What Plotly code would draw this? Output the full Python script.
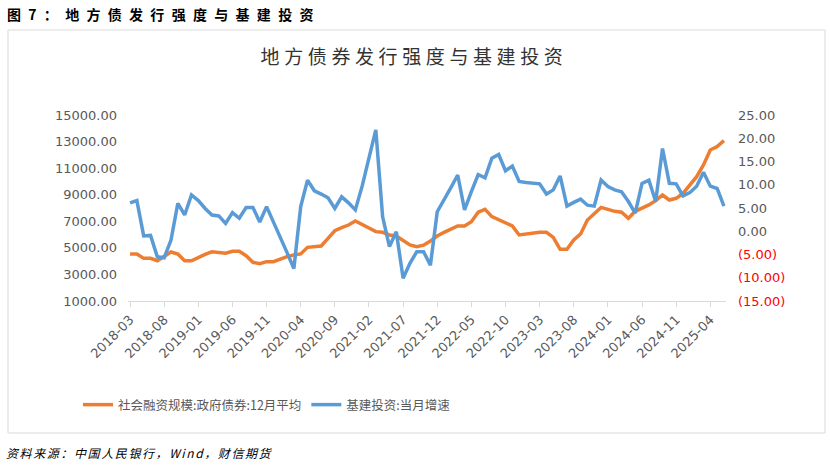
import plotly.graph_objects as go

# ---------------- data ----------------
months = []
y, m = 2018, 3
for _ in range(88):
    months.append(f"{y}-{m:02d}")
    m += 1
    if m > 12:
        m = 1
        y += 1

gov_bond_12m_avg = [
    4540, 4540, 4210, 4210, 4030, 4340, 4690, 4540, 4030, 4030,
    4290, 4510, 4710, 4660, 4590, 4740, 4740, 4410, 3910, 3810,
    3960, 3960, 4160, 4340, 4460, 4540, 5040, 5090, 5140, 5720,
    6290, 6520, 6720, 7020, 6770, 6470, 6220, 6170, 5970, 5890,
    5520, 5220, 5090, 5200, 5520, 5890, 6170, 6420, 6650, 6650,
    6970, 7680, 7900, 7350, 7100, 6850, 6650, 5970, 6040, 6140,
    6170, 6170, 5790, 4890, 4890, 5600, 6050, 7100, 7600, 8050,
    7900, 7750, 7680, 7230, 7750, 7980, 8230, 8550, 8980, 8600,
    8730, 9100, 9730, 10360, 11240, 12370, 12620, 13070,
]

infra_yoy = [
    6.1, 6.6, -1.0, -0.9, -5.5, -5.7, -1.9, 6.0, 3.5, 7.8,
    6.6, 4.9, 3.5, 3.3, 1.7, 4.0, 2.8, 5.1, 5.1, 2.0,
    5.3, 2.1, -1.2, -4.6, -8.0, 5.3, 11.0, 8.7, 8.0, 7.2,
    4.9, 7.4, 6.1, 4.6, 9.7, 15.7, 21.8, 3.1, -3.3, -0.1,
    -10.1, -6.9, -4.4, -4.4, -7.3, 4.2, 6.7, 9.4, 12.1, 4.6,
    8.5, 12.2, 11.5, 15.7, 16.5, 13.0, 14.0, 10.7, 10.5, 10.3,
    10.2, 8.0, 8.9, 11.9, 5.4, 6.2, 6.9, 5.6, 5.4, 11.0,
    9.6, 8.9, 8.5, 6.4, 3.9, 10.3, 11.0, 6.4, 17.8, 10.3,
    10.2, 7.6, 8.3, 9.7, 12.7, 9.7, 9.2, 5.4,
]

x_tick_labels = months[::5]
right_tick_vals = [-15, -10, -5, 0, 5, 10, 15, 20, 25]
right_tick_text = [
    '<span style="color:#FF0000">(15.00)</span>',
    '<span style="color:#FF0000">(10.00)</span>',
    '<span style="color:#FF0000">(5.00)</span>',
    '0.00', '5.00', '10.00', '15.00', '20.00', '25.00',
]

series_names = ["社会融资规模:政府债券:12月平均", "基建投资:当月增速"]
heading_text = "图7：地方债发行强度与基建投资"
title_text = "地方债券发行强度与基建投资"
source_text = "资料来源：中国人民银行，Wind，财信期货"

# ---------------- layout helpers ----------------
W, H = 830, 467
PL, PR, PT, PB = 128, 726, 115, 301


def px2x(px):
    return (px - PL) / (PR - PL)


def px2y(py):
    return (PB - py) / (PB - PT)


CJK = "Noto Sans CJK SC"
NUM = "DejaVu Sans"
GRAY = "#595959"

fig = go.Figure()
fig.add_trace(go.Scatter(
    x=months, y=gov_bond_12m_avg, name=series_names[0], mode="lines",
    line=dict(color="#ED7D31", width=3.5),
))
fig.add_trace(go.Scatter(
    x=months, y=infra_yoy, name=series_names[1], mode="lines", yaxis="y2",
    line=dict(color="#5B9BD5", width=3.5),
))

fig.update_layout(
    width=W, height=H,
    margin=dict(l=PL, r=W - PR, t=PT, b=H - PB, pad=0),
    paper_bgcolor="white", plot_bgcolor="white",
    showlegend=True,
    legend=dict(
        orientation="h", x=px2x(78), y=px2y(405), xanchor="left", yanchor="middle",
        font=dict(family=CJK, size=12.5, color=GRAY), itemwidth=30,
        bgcolor="rgba(0,0,0,0)",
    ),
    title=dict(
        text=f'<span style="letter-spacing:4.6px">{title_text}</span>',
        x=414 / W, xref="container", xanchor="center",
        y=1 - 57 / H, yref="container", yanchor="middle",
        font=dict(family=CJK, size=19, color="#333333"),
    ),
    xaxis=dict(
        type="category", range=[-0.3, 87.3],
        tickmode="array", tickvals=x_tick_labels, ticktext=x_tick_labels,
        tickangle=-45, ticks="outside", ticklen=5, tickcolor="#d9d9d9",
        showline=True, linecolor="#d9d9d9", linewidth=1, showgrid=False,
        tickfont=dict(family=NUM, size=13, color=GRAY),
    ),
    yaxis=dict(
        range=[1000, 15000], dtick=2000, tick0=1000, tickformat=".2f",
        showgrid=False, zeroline=False, showline=False,
        tickfont=dict(family=NUM, size=13, color=GRAY), ticklabelstandoff=10,
    ),
    yaxis2=dict(
        overlaying="y", side="right", range=[-15, 25],
        tickmode="array", tickvals=right_tick_vals, ticktext=right_tick_text,
        showgrid=False, zeroline=False, showline=False,
        tickfont=dict(family=NUM, size=13, color=GRAY), ticklabelstandoff=11,
    ),
    shapes=[dict(
        type="rect", xref="paper", yref="paper",
        x0=px2x(8), x1=px2x(825), y0=px2y(433), y1=px2y(30),
        line=dict(color="#d9d9d9", width=1), fillcolor="rgba(0,0,0,0)", layer="below",
    )],
    annotations=[
        dict(
            text=f'<b><span style="letter-spacing:7.3px">{heading_text}</span></b>',
            xref="paper", yref="paper", x=px2x(5), y=px2y(14),
            xanchor="left", yanchor="middle", showarrow=False,
            font=dict(family=CJK, size=14, color="#000000"),
        ),
        dict(
            text=f'<i><span style="letter-spacing:1.6px">{source_text}</span></i>',
            xref="paper", yref="paper", x=px2x(4), y=px2y(452),
            xanchor="left", yanchor="middle", showarrow=False,
            font=dict(family=CJK, size=12, color="#000000"),
        ),
    ],
)

fig.write_html(
    "out.html",
    config={"displayModeBar": False},
    post_script="document.body.style.margin='0px';document.body.style.overflow='hidden';",
)
